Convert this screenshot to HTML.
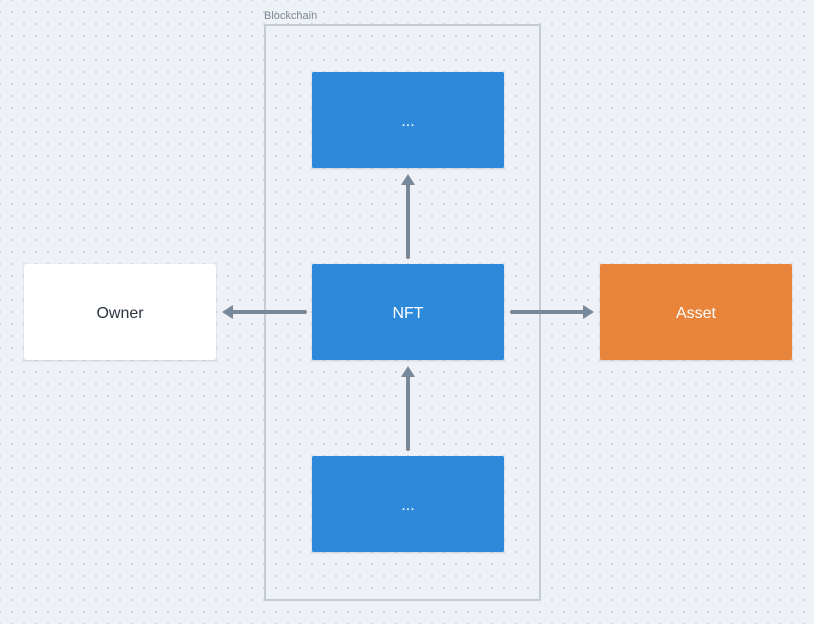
<!DOCTYPE html>
<html><head><meta charset="utf-8"><style>
html,body{margin:0;padding:0}
body{width:814px;height:624px;overflow:hidden;background:#eef2f6;
background-image:radial-gradient(circle,#cdd4dd 1px,transparent 1.2px);background-size:12px 12px;background-position:-6px -6px;
font-family:"Liberation Sans",sans-serif;position:relative}
.b{position:absolute;display:flex;align-items:center;justify-content:center;font-size:16px;border-radius:2px;box-shadow:0 1px 2px rgba(0,0,0,.12);padding-top:3px;box-sizing:border-box}
.blue{background:#2d89d9;color:#fff}
</style></head><body>
<div style="position:absolute;left:264px;top:24px;width:273px;height:573px;border:2px solid #c4cdd6;border-radius:2px"></div>
<div style="position:absolute;left:264px;top:10px;font-size:11px;color:#7a8694">Blockchain</div>
<div class="b blue" style="left:312px;top:72px;width:192px;height:96px">...</div>
<div class="b blue" style="left:312px;top:264px;width:192px;height:96px">NFT</div>
<div class="b blue" style="left:312px;top:456px;width:192px;height:96px">...</div>
<div class="b" style="left:24px;top:264px;width:192px;height:96px;background:#fff;color:#2a3440">Owner</div>
<div class="b" style="left:600px;top:264px;width:192px;height:96px;background:#e8853a;color:#fff">Asset</div>
<svg width="814" height="624" style="position:absolute;left:0;top:0">
<g stroke="#778899" stroke-width="4" stroke-linecap="round" fill="none">
<line x1="408" y1="257" x2="408" y2="183"/>
<line x1="408" y1="449" x2="408" y2="375"/>
<line x1="305" y1="312" x2="232" y2="312"/>
<line x1="512" y1="312" x2="584" y2="312"/>
</g>
<g fill="#778899">
<polygon points="408,174 401,185 415,185"/>
<polygon points="408,366 401,377 415,377"/>
<polygon points="222,312 233,305 233,319"/>
<polygon points="594,312 583,305 583,319"/>
</g>
</svg>
</body></html>
